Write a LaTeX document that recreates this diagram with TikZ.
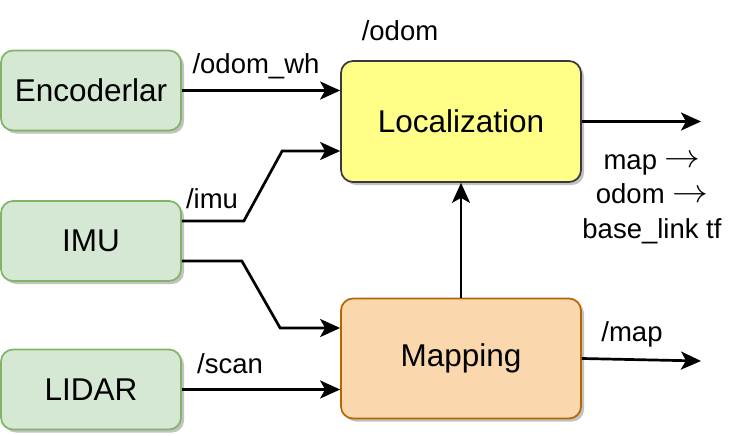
\RequirePackage{fix-cm}
\documentclass[tikz,border=0pt]{standalone}
\usepackage{fontspec}
\usepackage{graphicx}
\setmainfont{Liberation Sans}
\usetikzlibrary{arrows.meta,shadows,calc}
\definecolor{gfill}{HTML}{D5E8D4}
\definecolor{gline}{HTML}{82B366}
\definecolor{yfill}{HTML}{FFFF88}
\definecolor{yline}{HTML}{36393D}
\definecolor{ofill}{HTML}{FAD7AC}
\definecolor{oline}{HTML}{B46504}
\definecolor{shade}{HTML}{C2C2C2}
\newcommand{\tfarrow}{\raisebox{0.05em}{\scalebox{1.3}[1.2]{$\rightarrow$}}}
\tikzset{
  box/.style={rectangle, rounded corners=12pt, line width=1.7pt,
    drop shadow={shadow xshift=3pt, shadow yshift=-3pt, fill=shade, opacity=1},
    font=\fontsize{31.5}{36}\selectfont, inner sep=0pt},
  sensor/.style={box, fill=gfill, draw=gline, minimum width=180pt, minimum height=80pt},
  loczbox/.style={box, fill=yfill, draw=yline, minimum width=240pt, minimum height=121pt},
  mapbox/.style={box, fill=ofill, draw=oline, minimum width=240pt, minimum height=120pt},
  arr/.style={-{Stealth[length=20pt,width=18pt,inset=5pt]}, line width=2.7pt},
  lbl/.style={font=\fontsize{27.5}{34.5}\selectfont, inner sep=0pt, align=center}
}
\begin{document}
\begin{tikzpicture}[x=1pt,y=-1pt]
\useasboundingbox (0,0) rectangle (734,436);
\node[sensor] (enc) at (91,90.5) {Encoderlar};
\node[sensor] (imu) at (91,241) {IMU};
\node[sensor] (lidar) at (91,389.5) {LIDAR};
\node[loczbox] (loc) at (461,121.5) {Localization};
\node[mapbox] (map) at (461,358.5) {Mapping};
\coordinate (locout) at (701,121.5);
\coordinate (mapout) at (701,361);

\draw[arr] (enc.east) -- (loc.west |- enc.east);
\draw[arr] ($(imu.east)+(0,-20)$) -- ($(imu.east)+(62,-20)$) -- ($(loc.west)+(-58,29.5)$) -- ($(loc.west)+(0,29.5)$);
\draw[arr] ($(imu.east)+(0,20)$) -- ($(imu.east)+(60,20)$) -- ($(map.west)+(-60,-30.5)$) -- ($(map.west)+(0,-30.5)$);
\draw[arr] (lidar.east) -- (map.west |- lidar.east);
\draw[arr] (map.north) -- (loc.south);
\draw[arr] (loc.east) -- (locout);
\draw[arr] (map.east) -- (mapout);

\node[lbl] (lodom) at (400,31) {/odom};
\node[lbl] (lodomwh) at (256,66) {/odom\_wh};
\node[lbl] (limu) at (212,199) {/imu};
\node[lbl] (lscan) at (230,364) {/scan};
\node[lbl] (lmap) at (632,334) {/map};
\node[lbl] (ltf) at (652,199) {map \tfarrow\\odom \tfarrow\\base\_link tf};
\end{tikzpicture}
\end{document}
